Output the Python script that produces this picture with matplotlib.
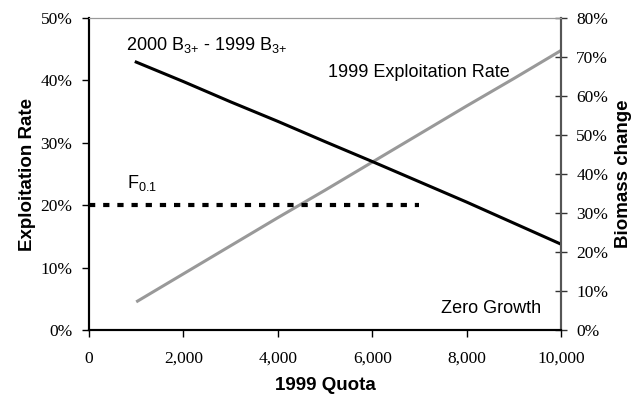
import numpy as np
import matplotlib.pyplot as plt
from matplotlib.ticker import FuncFormatter

quota = [1000, 2000, 3000, 4000, 5000, 6000, 7000, 8000, 9000, 10000]
exploit_rate = [4.5, 9.0, 13.5, 18.0, 22.4, 26.9, 31.4, 35.9, 40.3, 44.8]
biomass_change = [68.7, 63.7, 58.5, 53.5, 48.3, 43.2, 38.0, 32.8, 27.4, 22.0]
f01_x = [0, 7000]
f01_y = [20, 20]
zero_x = [4000, 10000]
zero_y = [0, 0]

serif = 'Liberation Serif'
sans = 'Liberation Sans'
plt.rcParams['mathtext.fontset'] = 'custom'
plt.rcParams['mathtext.rm'] = sans
plt.rcParams['mathtext.it'] = sans

fig = plt.figure(figsize=(6.39, 3.96), dpi=100)
ax = fig.add_axes([0.1393, 0.1667, 0.7387, 0.7878])
ax2 = ax.twinx()

ax.plot(quota, exploit_rate, color='#999999', lw=2.2, solid_capstyle='butt')
ax.plot(f01_x, f01_y, color='black', lw=3.0, dashes=(1.5, 1.9), dash_capstyle='butt')
ax2.plot(quota, biomass_change, color='black', lw=2.2)
ax2.plot(zero_x, zero_y, color='black', lw=1.2, dashes=(5.5, 3.6), clip_on=False, zorder=5)

ax.set_xlim(0, 10000)
ax.set_ylim(0, 50)
ax2.set_ylim(0, 80)
ax.set_xticks(range(0, 10001, 2000))
ax.set_yticks(range(0, 51, 10))
ax2.set_yticks(range(0, 81, 10))
ax.xaxis.set_major_formatter(FuncFormatter(lambda v, p: f'{int(v):,}'))
ax.yaxis.set_major_formatter(FuncFormatter(lambda v, p: f'{int(v)}%'))
ax2.yaxis.set_major_formatter(FuncFormatter(lambda v, p: f'{int(v)}%'))

for a in (ax, ax2):
    for lab in a.get_xticklabels() + a.get_yticklabels():
        lab.set_fontfamily(serif)
        lab.set_fontsize(12.5)
ax.tick_params(axis='y', direction='out', length=5, width=1, pad=7)
ax.tick_params(axis='x', direction='out', length=5, width=1, pad=10)
ax2.tick_params(axis='y', direction='inout', length=8, width=1, pad=7, colors='#333333')
for lab in ax2.get_yticklabels():
    lab.set_color('black')

for a in (ax, ax2):
    a.spines['top'].set_color('#999999')
    a.spines['right'].set_color('#555555')
    a.spines['right'].set_linewidth(1.5)
    a.spines['left'].set_linewidth(1.5)
    a.spines['bottom'].set_linewidth(1.5)

ax.set_xlabel('1999 Quota', fontfamily=sans, fontweight='bold', fontsize=13.5, labelpad=7)
ax.set_ylabel('Exploitation Rate', fontfamily=sans, fontweight='bold', fontsize=13.5, labelpad=3)
ax2.set_ylabel('Biomass change', fontfamily=sans, fontweight='bold', fontsize=13.5, labelpad=5)

ax2.text(780, 73.0, r'2000 B$_{3{+}}$ - 1999 B$_{3{+}}$', fontfamily=sans, fontsize=13,
         ha='left', va='center')
ax2.text(5060, 66.0, '1999 Exploitation Rate', fontfamily=sans, fontsize=13,
         ha='left', va='center')
ax.text(800, 23.5, r'F$_{0.1}$', fontfamily=sans, fontsize=13, ha='left', va='center')
ax2.text(7450, 5.4, 'Zero Growth', fontfamily=sans, fontsize=13, ha='left', va='center')

fig.savefig('out.png', dpi=100)
